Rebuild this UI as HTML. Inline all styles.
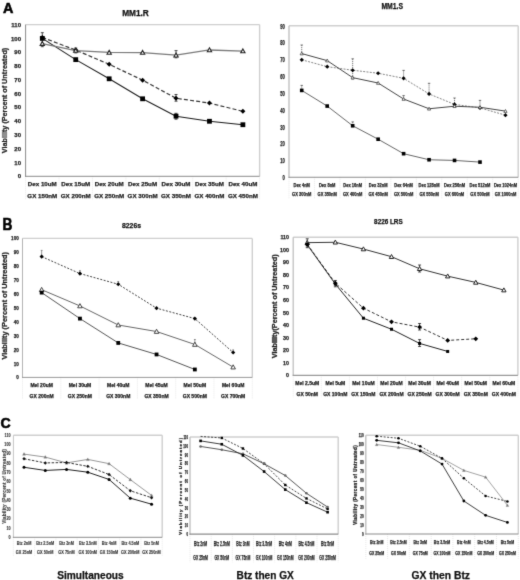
<!DOCTYPE html>
<html><head><meta charset="utf-8"><style>
html,body{margin:0;padding:0;background:#fff;}
body{width:520px;height:580px;overflow:hidden;}
svg{display:block;font-family:"Liberation Sans",sans-serif;}
</style></head><body>
<svg width="520" height="580" viewBox="0 0 520 580">
<defs><filter id="soft" x="0" y="0" width="520" height="580" filterUnits="userSpaceOnUse" color-interpolation-filters="sRGB"><feConvolveMatrix order="3" kernelMatrix="0.0115 0.084 0.0115 0.084 0.618 0.084 0.0115 0.084 0.0115" edgeMode="duplicate"/></filter></defs>
<rect width="520" height="580" fill="#fff"/>
<g filter="url(#soft)">
<rect width="520" height="580" fill="#fff"/>
<line x1="25.60" y1="24.60" x2="259.60" y2="24.60" stroke="#cfcfcf" stroke-width="1.4" />
<line x1="259.60" y1="24.60" x2="259.60" y2="176.30" stroke="#cfcfcf" stroke-width="1.4" />
<line x1="25.60" y1="176.30" x2="25.60" y2="199.50" stroke="#e0e0e0" stroke-width="0.7" stroke-dasharray="1,1" />
<line x1="59.03" y1="176.30" x2="59.03" y2="199.50" stroke="#e0e0e0" stroke-width="0.7" stroke-dasharray="1,1" />
<line x1="92.46" y1="176.30" x2="92.46" y2="199.50" stroke="#e0e0e0" stroke-width="0.7" stroke-dasharray="1,1" />
<line x1="125.89" y1="176.30" x2="125.89" y2="199.50" stroke="#e0e0e0" stroke-width="0.7" stroke-dasharray="1,1" />
<line x1="159.31" y1="176.30" x2="159.31" y2="199.50" stroke="#e0e0e0" stroke-width="0.7" stroke-dasharray="1,1" />
<line x1="192.74" y1="176.30" x2="192.74" y2="199.50" stroke="#e0e0e0" stroke-width="0.7" stroke-dasharray="1,1" />
<line x1="226.17" y1="176.30" x2="226.17" y2="199.50" stroke="#e0e0e0" stroke-width="0.7" stroke-dasharray="1,1" />
<line x1="259.60" y1="176.30" x2="259.60" y2="199.50" stroke="#e0e0e0" stroke-width="0.7" stroke-dasharray="1,1" />
<line x1="25.60" y1="24.60" x2="25.60" y2="176.80" stroke="#8a8a8a" stroke-width="1" />
<line x1="25.10" y1="176.30" x2="259.60" y2="176.30" stroke="#8a8a8a" stroke-width="1" />
<text x="21.00" y="178.45" font-size="6.00" font-weight="bold" text-anchor="end" textLength="3.34" lengthAdjust="spacingAndGlyphs" fill="#222"  stroke="#222" stroke-width="0.25">0</text>
<text x="21.00" y="164.66" font-size="6.00" font-weight="bold" text-anchor="end" textLength="6.67" lengthAdjust="spacingAndGlyphs" fill="#222"  stroke="#222" stroke-width="0.25">10</text>
<text x="21.00" y="150.87" font-size="6.00" font-weight="bold" text-anchor="end" textLength="6.67" lengthAdjust="spacingAndGlyphs" fill="#222"  stroke="#222" stroke-width="0.25">20</text>
<text x="21.00" y="137.08" font-size="6.00" font-weight="bold" text-anchor="end" textLength="6.67" lengthAdjust="spacingAndGlyphs" fill="#222"  stroke="#222" stroke-width="0.25">30</text>
<text x="21.00" y="123.28" font-size="6.00" font-weight="bold" text-anchor="end" textLength="6.67" lengthAdjust="spacingAndGlyphs" fill="#222"  stroke="#222" stroke-width="0.25">40</text>
<text x="21.00" y="109.49" font-size="6.00" font-weight="bold" text-anchor="end" textLength="6.67" lengthAdjust="spacingAndGlyphs" fill="#222"  stroke="#222" stroke-width="0.25">50</text>
<text x="21.00" y="95.70" font-size="6.00" font-weight="bold" text-anchor="end" textLength="6.67" lengthAdjust="spacingAndGlyphs" fill="#222"  stroke="#222" stroke-width="0.25">60</text>
<text x="21.00" y="81.91" font-size="6.00" font-weight="bold" text-anchor="end" textLength="6.67" lengthAdjust="spacingAndGlyphs" fill="#222"  stroke="#222" stroke-width="0.25">70</text>
<text x="21.00" y="68.12" font-size="6.00" font-weight="bold" text-anchor="end" textLength="6.67" lengthAdjust="spacingAndGlyphs" fill="#222"  stroke="#222" stroke-width="0.25">80</text>
<text x="21.00" y="54.33" font-size="6.00" font-weight="bold" text-anchor="end" textLength="6.67" lengthAdjust="spacingAndGlyphs" fill="#222"  stroke="#222" stroke-width="0.25">90</text>
<text x="21.00" y="40.54" font-size="6.00" font-weight="bold" text-anchor="end" textLength="10.01" lengthAdjust="spacingAndGlyphs" fill="#222"  stroke="#222" stroke-width="0.25">100</text>
<text x="21.00" y="26.75" font-size="6.00" font-weight="bold" text-anchor="end" textLength="9.68" lengthAdjust="spacingAndGlyphs" fill="#222"  stroke="#222" stroke-width="0.25">110</text>
<text x="42.31" y="186.22" font-size="6.20" font-weight="bold" text-anchor="middle" textLength="28.94" lengthAdjust="spacingAndGlyphs" fill="#222"  stroke="#222" stroke-width="0.25">Dex 10uM</text>
<text x="42.31" y="198.22" font-size="6.20" font-weight="bold" text-anchor="middle" textLength="29.98" lengthAdjust="spacingAndGlyphs" fill="#222"  stroke="#222" stroke-width="0.25">GX 150nM</text>
<text x="75.74" y="186.22" font-size="6.20" font-weight="bold" text-anchor="middle" textLength="28.94" lengthAdjust="spacingAndGlyphs" fill="#222"  stroke="#222" stroke-width="0.25">Dex 15uM</text>
<text x="75.74" y="198.22" font-size="6.20" font-weight="bold" text-anchor="middle" textLength="29.98" lengthAdjust="spacingAndGlyphs" fill="#222"  stroke="#222" stroke-width="0.25">GX 200nM</text>
<text x="109.17" y="186.22" font-size="6.20" font-weight="bold" text-anchor="middle" textLength="28.94" lengthAdjust="spacingAndGlyphs" fill="#222"  stroke="#222" stroke-width="0.25">Dex 20uM</text>
<text x="109.17" y="198.22" font-size="6.20" font-weight="bold" text-anchor="middle" textLength="29.98" lengthAdjust="spacingAndGlyphs" fill="#222"  stroke="#222" stroke-width="0.25">GX 250nM</text>
<text x="142.60" y="186.22" font-size="6.20" font-weight="bold" text-anchor="middle" textLength="28.94" lengthAdjust="spacingAndGlyphs" fill="#222"  stroke="#222" stroke-width="0.25">Dex 25uM</text>
<text x="142.60" y="198.22" font-size="6.20" font-weight="bold" text-anchor="middle" textLength="29.98" lengthAdjust="spacingAndGlyphs" fill="#222"  stroke="#222" stroke-width="0.25">GX 300nM</text>
<text x="176.03" y="186.22" font-size="6.20" font-weight="bold" text-anchor="middle" textLength="28.94" lengthAdjust="spacingAndGlyphs" fill="#222"  stroke="#222" stroke-width="0.25">Dex 30uM</text>
<text x="176.03" y="198.22" font-size="6.20" font-weight="bold" text-anchor="middle" textLength="29.98" lengthAdjust="spacingAndGlyphs" fill="#222"  stroke="#222" stroke-width="0.25">GX 350nM</text>
<text x="209.46" y="186.22" font-size="6.20" font-weight="bold" text-anchor="middle" textLength="28.94" lengthAdjust="spacingAndGlyphs" fill="#222"  stroke="#222" stroke-width="0.25">Dex 35uM</text>
<text x="209.46" y="198.22" font-size="6.20" font-weight="bold" text-anchor="middle" textLength="29.98" lengthAdjust="spacingAndGlyphs" fill="#222"  stroke="#222" stroke-width="0.25">GX 400nM</text>
<text x="242.89" y="186.22" font-size="6.20" font-weight="bold" text-anchor="middle" textLength="28.94" lengthAdjust="spacingAndGlyphs" fill="#222"  stroke="#222" stroke-width="0.25">Dex 40uM</text>
<text x="242.89" y="198.22" font-size="6.20" font-weight="bold" text-anchor="middle" textLength="29.98" lengthAdjust="spacingAndGlyphs" fill="#222"  stroke="#222" stroke-width="0.25">GX 450nM</text>
<line x1="42.31" y1="32.70" x2="42.31" y2="46.70" stroke="#222" stroke-width="0.8" />
<line x1="40.81" y1="32.70" x2="43.81" y2="32.70" stroke="#222" stroke-width="0.8" />
<line x1="40.81" y1="46.70" x2="43.81" y2="46.70" stroke="#222" stroke-width="0.8" />
<line x1="75.74" y1="48.00" x2="75.74" y2="52.90" stroke="#222" stroke-width="0.8" />
<line x1="74.24" y1="48.00" x2="77.24" y2="48.00" stroke="#222" stroke-width="0.8" />
<line x1="74.24" y1="52.90" x2="77.24" y2="52.90" stroke="#222" stroke-width="0.8" />
<line x1="176.03" y1="50.60" x2="176.03" y2="57.80" stroke="#222" stroke-width="0.8" />
<line x1="174.53" y1="50.60" x2="177.53" y2="50.60" stroke="#222" stroke-width="0.8" />
<line x1="174.53" y1="57.80" x2="177.53" y2="57.80" stroke="#222" stroke-width="0.8" />
<line x1="176.03" y1="94.50" x2="176.03" y2="101.20" stroke="#222" stroke-width="0.8" />
<line x1="174.53" y1="94.50" x2="177.53" y2="94.50" stroke="#222" stroke-width="0.8" />
<line x1="174.53" y1="101.20" x2="177.53" y2="101.20" stroke="#222" stroke-width="0.8" />
<line x1="176.03" y1="113.30" x2="176.03" y2="119.20" stroke="#222" stroke-width="0.8" />
<line x1="174.53" y1="113.30" x2="177.53" y2="113.30" stroke="#222" stroke-width="0.8" />
<line x1="174.53" y1="119.20" x2="177.53" y2="119.20" stroke="#222" stroke-width="0.8" />
<polyline points="42.31,38.39 75.74,59.63 109.17,78.80 142.60,98.80 176.03,116.17 209.46,121.27 242.89,124.72" fill="none" stroke="#1a1a1a" stroke-width="1.05" stroke-linejoin="round"/>
<polyline points="42.31,37.43 75.74,50.11 109.17,64.32 142.60,80.18 176.03,98.24 209.46,103.07 242.89,111.34" fill="none" stroke="#333" stroke-width="1.2" stroke-dasharray="4,2.2" stroke-linejoin="round"/>
<polyline points="42.31,43.63 75.74,50.53 109.17,52.46 142.60,52.60 176.03,55.22 209.46,49.98 242.89,51.08" fill="none" stroke="#7a7a7a" stroke-width="1.3" stroke-linejoin="round"/>
<rect x="39.91" y="35.99" width="4.80" height="4.80" fill="#000" stroke="none"/>
<rect x="73.34" y="57.23" width="4.80" height="4.80" fill="#000" stroke="none"/>
<rect x="106.77" y="76.40" width="4.80" height="4.80" fill="#000" stroke="none"/>
<rect x="140.20" y="96.40" width="4.80" height="4.80" fill="#000" stroke="none"/>
<rect x="173.63" y="113.77" width="4.80" height="4.80" fill="#000" stroke="none"/>
<rect x="207.06" y="118.87" width="4.80" height="4.80" fill="#000" stroke="none"/>
<rect x="240.49" y="122.32" width="4.80" height="4.80" fill="#000" stroke="none"/>
<polygon points="42.31,34.93 44.81,37.43 42.31,39.93 39.81,37.43" fill="#000" stroke="none"/>
<polygon points="75.74,47.61 78.24,50.11 75.74,52.61 73.24,50.11" fill="#000" stroke="none"/>
<polygon points="109.17,61.82 111.67,64.32 109.17,66.82 106.67,64.32" fill="#000" stroke="none"/>
<polygon points="142.60,77.68 145.10,80.18 142.60,82.68 140.10,80.18" fill="#000" stroke="none"/>
<polygon points="176.03,95.74 178.53,98.24 176.03,100.74 173.53,98.24" fill="#000" stroke="none"/>
<polygon points="209.46,100.57 211.96,103.07 209.46,105.57 206.96,103.07" fill="#000" stroke="none"/>
<polygon points="242.89,108.84 245.39,111.34 242.89,113.84 240.39,111.34" fill="#000" stroke="none"/>
<polygon points="42.31,41.48 44.46,45.35 40.16,45.35" fill="#fff" stroke="#222" stroke-width="1.1"/>
<polygon points="75.74,48.38 77.89,52.25 73.59,52.25" fill="#fff" stroke="#222" stroke-width="1.1"/>
<polygon points="109.17,50.31 111.32,54.18 107.02,54.18" fill="#fff" stroke="#222" stroke-width="1.1"/>
<polygon points="142.60,50.45 144.75,54.32 140.45,54.32" fill="#fff" stroke="#222" stroke-width="1.1"/>
<polygon points="176.03,53.07 178.18,56.94 173.88,56.94" fill="#fff" stroke="#222" stroke-width="1.1"/>
<polygon points="209.46,47.83 211.61,51.70 207.31,51.70" fill="#fff" stroke="#222" stroke-width="1.1"/>
<polygon points="242.89,48.93 245.04,52.80 240.74,52.80" fill="#fff" stroke="#222" stroke-width="1.1"/>
<text x="135.50" y="15.70" font-size="8.40" font-weight="bold" text-anchor="middle" textLength="26.70" lengthAdjust="spacingAndGlyphs" fill="#111"  stroke="#111" stroke-width="0.25">MM1.R</text>
<text transform="translate(6.90,100.50) rotate(-90)" x="0" y="0" font-size="7.60" font-weight="bold" text-anchor="middle" textLength="105.40" lengthAdjust="spacingAndGlyphs" fill="#222"  stroke="#222" stroke-width="0.25">Viability (Percent of Untreated)</text>
<line x1="289.00" y1="25.80" x2="518.20" y2="25.80" stroke="#cfcfcf" stroke-width="1.4" />
<line x1="518.20" y1="25.80" x2="518.20" y2="177.25" stroke="#cfcfcf" stroke-width="1.4" />
<line x1="289.00" y1="177.25" x2="289.00" y2="199.00" stroke="#e0e0e0" stroke-width="0.7" stroke-dasharray="1,1" />
<line x1="314.47" y1="177.25" x2="314.47" y2="199.00" stroke="#e0e0e0" stroke-width="0.7" stroke-dasharray="1,1" />
<line x1="339.93" y1="177.25" x2="339.93" y2="199.00" stroke="#e0e0e0" stroke-width="0.7" stroke-dasharray="1,1" />
<line x1="365.40" y1="177.25" x2="365.40" y2="199.00" stroke="#e0e0e0" stroke-width="0.7" stroke-dasharray="1,1" />
<line x1="390.87" y1="177.25" x2="390.87" y2="199.00" stroke="#e0e0e0" stroke-width="0.7" stroke-dasharray="1,1" />
<line x1="416.33" y1="177.25" x2="416.33" y2="199.00" stroke="#e0e0e0" stroke-width="0.7" stroke-dasharray="1,1" />
<line x1="441.80" y1="177.25" x2="441.80" y2="199.00" stroke="#e0e0e0" stroke-width="0.7" stroke-dasharray="1,1" />
<line x1="467.27" y1="177.25" x2="467.27" y2="199.00" stroke="#e0e0e0" stroke-width="0.7" stroke-dasharray="1,1" />
<line x1="492.73" y1="177.25" x2="492.73" y2="199.00" stroke="#e0e0e0" stroke-width="0.7" stroke-dasharray="1,1" />
<line x1="518.20" y1="177.25" x2="518.20" y2="199.00" stroke="#e0e0e0" stroke-width="0.7" stroke-dasharray="1,1" />
<line x1="289.00" y1="25.80" x2="289.00" y2="177.75" stroke="#c4c4c4" stroke-width="1.5" />
<line x1="288.50" y1="177.25" x2="518.20" y2="177.25" stroke="#8c8c8c" stroke-width="1.0" />
<text x="284.90" y="180.11" font-size="6.60" font-weight="bold" text-anchor="end" textLength="2.28" lengthAdjust="spacingAndGlyphs" fill="#222"  stroke="#222" stroke-width="0.25">0</text>
<text x="284.90" y="163.29" font-size="6.60" font-weight="bold" text-anchor="end" textLength="4.55" lengthAdjust="spacingAndGlyphs" fill="#222"  stroke="#222" stroke-width="0.25">10</text>
<text x="284.90" y="146.46" font-size="6.60" font-weight="bold" text-anchor="end" textLength="4.55" lengthAdjust="spacingAndGlyphs" fill="#222"  stroke="#222" stroke-width="0.25">20</text>
<text x="284.90" y="129.63" font-size="6.60" font-weight="bold" text-anchor="end" textLength="4.55" lengthAdjust="spacingAndGlyphs" fill="#222"  stroke="#222" stroke-width="0.25">30</text>
<text x="284.90" y="112.80" font-size="6.60" font-weight="bold" text-anchor="end" textLength="4.55" lengthAdjust="spacingAndGlyphs" fill="#222"  stroke="#222" stroke-width="0.25">40</text>
<text x="284.90" y="95.97" font-size="6.60" font-weight="bold" text-anchor="end" textLength="4.55" lengthAdjust="spacingAndGlyphs" fill="#222"  stroke="#222" stroke-width="0.25">50</text>
<text x="284.90" y="79.15" font-size="6.60" font-weight="bold" text-anchor="end" textLength="4.55" lengthAdjust="spacingAndGlyphs" fill="#222"  stroke="#222" stroke-width="0.25">60</text>
<text x="284.90" y="62.32" font-size="6.60" font-weight="bold" text-anchor="end" textLength="4.55" lengthAdjust="spacingAndGlyphs" fill="#222"  stroke="#222" stroke-width="0.25">70</text>
<text x="284.90" y="45.49" font-size="6.60" font-weight="bold" text-anchor="end" textLength="4.55" lengthAdjust="spacingAndGlyphs" fill="#222"  stroke="#222" stroke-width="0.25">80</text>
<text x="284.90" y="28.66" font-size="6.60" font-weight="bold" text-anchor="end" textLength="4.55" lengthAdjust="spacingAndGlyphs" fill="#222"  stroke="#222" stroke-width="0.25">90</text>
<text x="301.73" y="186.56" font-size="5.20" font-weight="bold" text-anchor="middle" textLength="16.46" lengthAdjust="spacingAndGlyphs" fill="#222"  stroke="#222" stroke-width="0.25">Dex 4nM</text>
<text x="301.73" y="196.26" font-size="5.20" font-weight="bold" text-anchor="middle" textLength="19.36" lengthAdjust="spacingAndGlyphs" fill="#222"  stroke="#222" stroke-width="0.25">GX 300nM</text>
<text x="327.20" y="186.56" font-size="5.20" font-weight="bold" text-anchor="middle" textLength="16.46" lengthAdjust="spacingAndGlyphs" fill="#222"  stroke="#222" stroke-width="0.25">Dex 8nM</text>
<text x="327.20" y="196.26" font-size="5.20" font-weight="bold" text-anchor="middle" textLength="19.36" lengthAdjust="spacingAndGlyphs" fill="#222"  stroke="#222" stroke-width="0.25">GX 350nM</text>
<text x="352.67" y="186.56" font-size="5.20" font-weight="bold" text-anchor="middle" textLength="18.69" lengthAdjust="spacingAndGlyphs" fill="#222"  stroke="#222" stroke-width="0.25">Dex 16nM</text>
<text x="352.67" y="196.26" font-size="5.20" font-weight="bold" text-anchor="middle" textLength="19.36" lengthAdjust="spacingAndGlyphs" fill="#222"  stroke="#222" stroke-width="0.25">GX 400nM</text>
<text x="378.13" y="186.56" font-size="5.20" font-weight="bold" text-anchor="middle" textLength="18.69" lengthAdjust="spacingAndGlyphs" fill="#222"  stroke="#222" stroke-width="0.25">Dex 32nM</text>
<text x="378.13" y="196.26" font-size="5.20" font-weight="bold" text-anchor="middle" textLength="19.36" lengthAdjust="spacingAndGlyphs" fill="#222"  stroke="#222" stroke-width="0.25">GX 450nM</text>
<text x="403.60" y="186.56" font-size="5.20" font-weight="bold" text-anchor="middle" textLength="18.69" lengthAdjust="spacingAndGlyphs" fill="#222"  stroke="#222" stroke-width="0.25">Dex 64nM</text>
<text x="403.60" y="196.26" font-size="5.20" font-weight="bold" text-anchor="middle" textLength="19.36" lengthAdjust="spacingAndGlyphs" fill="#222"  stroke="#222" stroke-width="0.25">GX 500nM</text>
<text x="429.07" y="186.56" font-size="5.20" font-weight="bold" text-anchor="middle" textLength="20.92" lengthAdjust="spacingAndGlyphs" fill="#222"  stroke="#222" stroke-width="0.25">Dex 128nM</text>
<text x="429.07" y="196.26" font-size="5.20" font-weight="bold" text-anchor="middle" textLength="19.36" lengthAdjust="spacingAndGlyphs" fill="#222"  stroke="#222" stroke-width="0.25">GX 550nM</text>
<text x="454.53" y="186.56" font-size="5.20" font-weight="bold" text-anchor="middle" textLength="20.92" lengthAdjust="spacingAndGlyphs" fill="#222"  stroke="#222" stroke-width="0.25">Dex 256nM</text>
<text x="454.53" y="196.26" font-size="5.20" font-weight="bold" text-anchor="middle" textLength="19.36" lengthAdjust="spacingAndGlyphs" fill="#222"  stroke="#222" stroke-width="0.25">GX 600nM</text>
<text x="480.00" y="186.56" font-size="5.20" font-weight="bold" text-anchor="middle" textLength="20.92" lengthAdjust="spacingAndGlyphs" fill="#222"  stroke="#222" stroke-width="0.25">Dex 512nM</text>
<text x="480.00" y="196.26" font-size="5.20" font-weight="bold" text-anchor="middle" textLength="19.36" lengthAdjust="spacingAndGlyphs" fill="#222"  stroke="#222" stroke-width="0.25">GX 500nM</text>
<text x="505.47" y="186.56" font-size="5.20" font-weight="bold" text-anchor="middle" textLength="23.14" lengthAdjust="spacingAndGlyphs" fill="#222"  stroke="#222" stroke-width="0.25">Dex 1024nM</text>
<text x="505.47" y="196.26" font-size="5.20" font-weight="bold" text-anchor="middle" textLength="21.58" lengthAdjust="spacingAndGlyphs" fill="#222"  stroke="#222" stroke-width="0.25">GX 1000nM</text>
<line x1="301.73" y1="45.00" x2="301.73" y2="53.80" stroke="#555" stroke-width="0.8" stroke-dasharray="1.2,0.8" />
<line x1="300.53" y1="45.00" x2="302.93" y2="45.00" stroke="#555" stroke-width="0.8" />
<line x1="301.73" y1="85.40" x2="301.73" y2="90.50" stroke="#555" stroke-width="0.8" stroke-dasharray="1.2,0.8" />
<line x1="300.53" y1="85.40" x2="302.93" y2="85.40" stroke="#555" stroke-width="0.8" />
<line x1="352.67" y1="58.80" x2="352.67" y2="79.00" stroke="#555" stroke-width="0.8" stroke-dasharray="1.2,0.8" />
<line x1="351.47" y1="58.80" x2="353.87" y2="58.80" stroke="#555" stroke-width="0.8" />
<line x1="351.47" y1="79.00" x2="353.87" y2="79.00" stroke="#555" stroke-width="0.8" />
<line x1="403.60" y1="70.40" x2="403.60" y2="78.90" stroke="#555" stroke-width="0.8" stroke-dasharray="1.2,0.8" />
<line x1="402.40" y1="70.40" x2="404.80" y2="70.40" stroke="#555" stroke-width="0.8" />
<line x1="403.60" y1="95.60" x2="403.60" y2="98.80" stroke="#555" stroke-width="0.8" stroke-dasharray="1.2,0.8" />
<line x1="402.40" y1="95.60" x2="404.80" y2="95.60" stroke="#555" stroke-width="0.8" />
<line x1="429.07" y1="83.30" x2="429.07" y2="94.10" stroke="#555" stroke-width="0.8" stroke-dasharray="1.2,0.8" />
<line x1="427.87" y1="83.30" x2="430.27" y2="83.30" stroke="#555" stroke-width="0.8" />
<line x1="454.53" y1="98.00" x2="454.53" y2="104.50" stroke="#555" stroke-width="0.8" stroke-dasharray="1.2,0.8" />
<line x1="453.33" y1="98.00" x2="455.73" y2="98.00" stroke="#555" stroke-width="0.8" />
<line x1="480.00" y1="100.40" x2="480.00" y2="108.00" stroke="#555" stroke-width="0.8" stroke-dasharray="1.2,0.8" />
<line x1="478.80" y1="100.40" x2="481.20" y2="100.40" stroke="#555" stroke-width="0.8" />
<line x1="352.67" y1="121.90" x2="352.67" y2="125.80" stroke="#555" stroke-width="0.8" stroke-dasharray="1.2,0.8" />
<line x1="351.47" y1="121.90" x2="353.87" y2="121.90" stroke="#555" stroke-width="0.8" />
<polyline points="301.73,90.42 327.20,106.07 352.67,125.76 378.13,139.22 403.60,153.69 429.07,159.75 454.53,160.42 480.00,162.10" fill="none" stroke="#666" stroke-width="1.0" stroke-linejoin="round"/>
<polyline points="301.73,59.79 327.20,66.69 352.67,70.23 378.13,73.25 403.60,78.30 429.07,93.95 454.53,104.39 480.00,107.92 505.47,115.16" fill="none" stroke="#777" stroke-width="0.9" stroke-dasharray="2,1.3" stroke-linejoin="round"/>
<polyline points="301.73,53.57 327.20,60.63 352.67,77.63 378.13,83.01 403.60,99.00 429.07,108.76 454.53,106.24 480.00,107.25 505.47,111.12" fill="none" stroke="#444" stroke-width="1.0" stroke-linejoin="round"/>
<rect x="299.93" y="88.62" width="3.60" height="3.60" fill="#000" stroke="none"/>
<rect x="325.40" y="104.27" width="3.60" height="3.60" fill="#000" stroke="none"/>
<rect x="350.87" y="123.96" width="3.60" height="3.60" fill="#000" stroke="none"/>
<rect x="376.33" y="137.42" width="3.60" height="3.60" fill="#000" stroke="none"/>
<rect x="401.80" y="151.89" width="3.60" height="3.60" fill="#000" stroke="none"/>
<rect x="427.27" y="157.95" width="3.60" height="3.60" fill="#000" stroke="none"/>
<rect x="452.73" y="158.62" width="3.60" height="3.60" fill="#000" stroke="none"/>
<rect x="478.20" y="160.30" width="3.60" height="3.60" fill="#000" stroke="none"/>
<polygon points="301.73,57.69 303.83,59.79 301.73,61.89 299.63,59.79" fill="#000" stroke="none"/>
<polygon points="327.20,64.59 329.30,66.69 327.20,68.79 325.10,66.69" fill="#000" stroke="none"/>
<polygon points="352.67,68.13 354.77,70.23 352.67,72.33 350.57,70.23" fill="#000" stroke="none"/>
<polygon points="378.13,71.15 380.23,73.25 378.13,75.35 376.03,73.25" fill="#000" stroke="none"/>
<polygon points="403.60,76.20 405.70,78.30 403.60,80.40 401.50,78.30" fill="#000" stroke="none"/>
<polygon points="429.07,91.85 431.17,93.95 429.07,96.05 426.97,93.95" fill="#000" stroke="none"/>
<polygon points="454.53,102.29 456.63,104.39 454.53,106.49 452.43,104.39" fill="#000" stroke="none"/>
<polygon points="480.00,105.82 482.10,107.92 480.00,110.02 477.90,107.92" fill="#000" stroke="none"/>
<polygon points="505.47,113.06 507.57,115.16 505.47,117.26 503.37,115.16" fill="#000" stroke="none"/>
<polygon points="301.73,51.97 303.33,54.85 300.13,54.85" fill="#fff" stroke="#444" stroke-width="0.8"/>
<polygon points="327.20,59.03 328.80,61.91 325.60,61.91" fill="#fff" stroke="#444" stroke-width="0.8"/>
<polygon points="352.67,76.03 354.27,78.91 351.07,78.91" fill="#fff" stroke="#444" stroke-width="0.8"/>
<polygon points="378.13,81.41 379.73,84.29 376.53,84.29" fill="#fff" stroke="#444" stroke-width="0.8"/>
<polygon points="403.60,97.40 405.20,100.28 402.00,100.28" fill="#fff" stroke="#444" stroke-width="0.8"/>
<polygon points="429.07,107.16 430.67,110.04 427.47,110.04" fill="#fff" stroke="#444" stroke-width="0.8"/>
<polygon points="454.53,104.64 456.13,107.52 452.93,107.52" fill="#fff" stroke="#444" stroke-width="0.8"/>
<polygon points="480.00,105.65 481.60,108.53 478.40,108.53" fill="#fff" stroke="#444" stroke-width="0.8"/>
<polygon points="505.47,109.52 507.07,112.40 503.87,112.40" fill="#fff" stroke="#444" stroke-width="0.8"/>
<text x="392.20" y="9.40" font-size="8.40" font-weight="bold" text-anchor="middle" textLength="21.60" lengthAdjust="spacingAndGlyphs" fill="#111"  stroke="#111" stroke-width="0.25">MM1.S</text>
<line x1="22.50" y1="238.40" x2="252.30" y2="238.40" stroke="#cfcfcf" stroke-width="1.4" />
<line x1="252.30" y1="238.40" x2="252.30" y2="377.40" stroke="#cfcfcf" stroke-width="1.4" />
<line x1="22.50" y1="377.40" x2="22.50" y2="399.00" stroke="#e0e0e0" stroke-width="0.7" stroke-dasharray="1,1" />
<line x1="60.80" y1="377.40" x2="60.80" y2="399.00" stroke="#e0e0e0" stroke-width="0.7" stroke-dasharray="1,1" />
<line x1="99.10" y1="377.40" x2="99.10" y2="399.00" stroke="#e0e0e0" stroke-width="0.7" stroke-dasharray="1,1" />
<line x1="137.40" y1="377.40" x2="137.40" y2="399.00" stroke="#e0e0e0" stroke-width="0.7" stroke-dasharray="1,1" />
<line x1="175.70" y1="377.40" x2="175.70" y2="399.00" stroke="#e0e0e0" stroke-width="0.7" stroke-dasharray="1,1" />
<line x1="214.00" y1="377.40" x2="214.00" y2="399.00" stroke="#e0e0e0" stroke-width="0.7" stroke-dasharray="1,1" />
<line x1="252.30" y1="377.40" x2="252.30" y2="399.00" stroke="#e0e0e0" stroke-width="0.7" stroke-dasharray="1,1" />
<line x1="22.50" y1="238.40" x2="22.50" y2="377.90" stroke="#b4b4b4" stroke-width="1" />
<line x1="22.00" y1="377.40" x2="252.30" y2="377.40" stroke="#999" stroke-width="1" />
<text x="18.75" y="379.40" font-size="5.60" font-weight="bold" text-anchor="end" textLength="2.55" lengthAdjust="spacingAndGlyphs" fill="#222"  stroke="#222" stroke-width="0.25">0</text>
<text x="18.75" y="365.50" font-size="5.60" font-weight="bold" text-anchor="end" textLength="5.11" lengthAdjust="spacingAndGlyphs" fill="#222"  stroke="#222" stroke-width="0.25">10</text>
<text x="18.75" y="351.60" font-size="5.60" font-weight="bold" text-anchor="end" textLength="5.11" lengthAdjust="spacingAndGlyphs" fill="#222"  stroke="#222" stroke-width="0.25">20</text>
<text x="18.75" y="337.70" font-size="5.60" font-weight="bold" text-anchor="end" textLength="5.11" lengthAdjust="spacingAndGlyphs" fill="#222"  stroke="#222" stroke-width="0.25">30</text>
<text x="18.75" y="323.80" font-size="5.60" font-weight="bold" text-anchor="end" textLength="5.11" lengthAdjust="spacingAndGlyphs" fill="#222"  stroke="#222" stroke-width="0.25">40</text>
<text x="18.75" y="309.90" font-size="5.60" font-weight="bold" text-anchor="end" textLength="5.11" lengthAdjust="spacingAndGlyphs" fill="#222"  stroke="#222" stroke-width="0.25">50</text>
<text x="18.75" y="296.00" font-size="5.60" font-weight="bold" text-anchor="end" textLength="5.11" lengthAdjust="spacingAndGlyphs" fill="#222"  stroke="#222" stroke-width="0.25">60</text>
<text x="18.75" y="282.10" font-size="5.60" font-weight="bold" text-anchor="end" textLength="5.11" lengthAdjust="spacingAndGlyphs" fill="#222"  stroke="#222" stroke-width="0.25">70</text>
<text x="18.75" y="268.20" font-size="5.60" font-weight="bold" text-anchor="end" textLength="5.11" lengthAdjust="spacingAndGlyphs" fill="#222"  stroke="#222" stroke-width="0.25">80</text>
<text x="18.75" y="254.30" font-size="5.60" font-weight="bold" text-anchor="end" textLength="5.11" lengthAdjust="spacingAndGlyphs" fill="#222"  stroke="#222" stroke-width="0.25">90</text>
<text x="18.75" y="240.40" font-size="5.60" font-weight="bold" text-anchor="end" textLength="7.66" lengthAdjust="spacingAndGlyphs" fill="#222"  stroke="#222" stroke-width="0.25">100</text>
<text x="41.65" y="386.79" font-size="5.00" font-weight="bold" text-anchor="middle" textLength="22.50" lengthAdjust="spacingAndGlyphs" fill="#222"  stroke="#222" stroke-width="0.25">Mel 20uM</text>
<text x="41.65" y="397.79" font-size="5.00" font-weight="bold" text-anchor="middle" textLength="24.17" lengthAdjust="spacingAndGlyphs" fill="#222"  stroke="#222" stroke-width="0.25">GX 200nM</text>
<text x="79.95" y="386.79" font-size="5.00" font-weight="bold" text-anchor="middle" textLength="22.50" lengthAdjust="spacingAndGlyphs" fill="#222"  stroke="#222" stroke-width="0.25">Mel 30uM</text>
<text x="79.95" y="397.79" font-size="5.00" font-weight="bold" text-anchor="middle" textLength="24.17" lengthAdjust="spacingAndGlyphs" fill="#222"  stroke="#222" stroke-width="0.25">GX 250nM</text>
<text x="118.25" y="386.79" font-size="5.00" font-weight="bold" text-anchor="middle" textLength="22.50" lengthAdjust="spacingAndGlyphs" fill="#222"  stroke="#222" stroke-width="0.25">Mel 40uM</text>
<text x="118.25" y="397.79" font-size="5.00" font-weight="bold" text-anchor="middle" textLength="24.17" lengthAdjust="spacingAndGlyphs" fill="#222"  stroke="#222" stroke-width="0.25">GX 300nM</text>
<text x="156.55" y="386.79" font-size="5.00" font-weight="bold" text-anchor="middle" textLength="22.50" lengthAdjust="spacingAndGlyphs" fill="#222"  stroke="#222" stroke-width="0.25">Mel 45uM</text>
<text x="156.55" y="397.79" font-size="5.00" font-weight="bold" text-anchor="middle" textLength="24.17" lengthAdjust="spacingAndGlyphs" fill="#222"  stroke="#222" stroke-width="0.25">GX 350nM</text>
<text x="194.85" y="386.79" font-size="5.00" font-weight="bold" text-anchor="middle" textLength="22.50" lengthAdjust="spacingAndGlyphs" fill="#222"  stroke="#222" stroke-width="0.25">Mel 50uM</text>
<text x="194.85" y="397.79" font-size="5.00" font-weight="bold" text-anchor="middle" textLength="24.17" lengthAdjust="spacingAndGlyphs" fill="#222"  stroke="#222" stroke-width="0.25">GX 500nM</text>
<text x="233.15" y="386.79" font-size="5.00" font-weight="bold" text-anchor="middle" textLength="22.50" lengthAdjust="spacingAndGlyphs" fill="#222"  stroke="#222" stroke-width="0.25">Mel 60uM</text>
<text x="233.15" y="397.79" font-size="5.00" font-weight="bold" text-anchor="middle" textLength="24.17" lengthAdjust="spacingAndGlyphs" fill="#222"  stroke="#222" stroke-width="0.25">GX 700nM</text>
<line x1="41.65" y1="250.40" x2="41.65" y2="256.60" stroke="#666" stroke-width="0.7" />
<line x1="40.75" y1="250.40" x2="42.55" y2="250.40" stroke="#666" stroke-width="0.7" />
<line x1="79.95" y1="270.70" x2="79.95" y2="273.50" stroke="#666" stroke-width="0.7" />
<line x1="79.05" y1="270.70" x2="80.85" y2="270.70" stroke="#666" stroke-width="0.7" />
<line x1="118.25" y1="281.50" x2="118.25" y2="284.30" stroke="#666" stroke-width="0.7" />
<line x1="117.35" y1="281.50" x2="119.15" y2="281.50" stroke="#666" stroke-width="0.7" />
<line x1="194.85" y1="339.50" x2="194.85" y2="344.30" stroke="#666" stroke-width="0.7" />
<line x1="193.95" y1="339.50" x2="195.75" y2="339.50" stroke="#666" stroke-width="0.7" />
<line x1="233.15" y1="349.90" x2="233.15" y2="352.30" stroke="#666" stroke-width="0.7" />
<line x1="232.25" y1="349.90" x2="234.05" y2="349.90" stroke="#666" stroke-width="0.7" />
<polyline points="41.65,256.61 79.95,273.57 118.25,284.27 156.55,308.18 194.85,318.60 233.15,352.52" fill="none" stroke="#444" stroke-width="1.0" stroke-dasharray="2,1.5" stroke-linejoin="round"/>
<polyline points="41.65,289.69 79.95,305.95 118.25,325.00 156.55,331.53 194.85,344.46 233.15,367.11" fill="none" stroke="#666" stroke-width="1.0" stroke-linejoin="round"/>
<polyline points="41.65,292.61 79.95,318.60 118.25,342.93 156.55,354.46 194.85,369.48" fill="none" stroke="#555" stroke-width="1.0" stroke-linejoin="round"/>
<polygon points="41.65,254.51 43.75,256.61 41.65,258.71 39.55,256.61" fill="#000" stroke="none"/>
<polygon points="79.95,271.47 82.05,273.57 79.95,275.67 77.85,273.57" fill="#000" stroke="none"/>
<polygon points="118.25,282.17 120.35,284.27 118.25,286.37 116.15,284.27" fill="#000" stroke="none"/>
<polygon points="156.55,306.08 158.65,308.18 156.55,310.28 154.45,308.18" fill="#000" stroke="none"/>
<polygon points="194.85,316.50 196.95,318.60 194.85,320.70 192.75,318.60" fill="#000" stroke="none"/>
<polygon points="233.15,350.42 235.25,352.52 233.15,354.62 231.05,352.52" fill="#000" stroke="none"/>
<polygon points="41.65,287.39 43.95,291.53 39.35,291.53" fill="#fff" stroke="#333" stroke-width="0.9"/>
<polygon points="79.95,303.65 82.25,307.79 77.65,307.79" fill="#fff" stroke="#333" stroke-width="0.9"/>
<polygon points="118.25,322.70 120.55,326.84 115.95,326.84" fill="#fff" stroke="#333" stroke-width="0.9"/>
<polygon points="156.55,329.23 158.85,333.37 154.25,333.37" fill="#fff" stroke="#333" stroke-width="0.9"/>
<polygon points="194.85,342.16 197.15,346.30 192.55,346.30" fill="#fff" stroke="#333" stroke-width="0.9"/>
<polygon points="233.15,364.81 235.45,368.95 230.85,368.95" fill="#fff" stroke="#333" stroke-width="0.9"/>
<rect x="39.75" y="290.71" width="3.80" height="3.80" fill="#000" stroke="none"/>
<rect x="78.05" y="316.70" width="3.80" height="3.80" fill="#000" stroke="none"/>
<rect x="116.35" y="341.03" width="3.80" height="3.80" fill="#000" stroke="none"/>
<rect x="154.65" y="352.56" width="3.80" height="3.80" fill="#000" stroke="none"/>
<rect x="192.95" y="367.58" width="3.80" height="3.80" fill="#000" stroke="none"/>
<text x="131.50" y="227.90" font-size="7.40" font-weight="bold" text-anchor="middle" textLength="19.10" lengthAdjust="spacingAndGlyphs" fill="#111"  stroke="#111" stroke-width="0.25">8226s</text>
<text transform="translate(7.20,305.80) rotate(-90)" x="0" y="0" font-size="7.40" font-weight="bold" text-anchor="middle" textLength="107.60" lengthAdjust="spacingAndGlyphs" fill="#222"  stroke="#222" stroke-width="0.25">Viability (Percent of Untreated)</text>
<line x1="293.20" y1="237.25" x2="517.90" y2="237.25" stroke="#cfcfcf" stroke-width="1.4" />
<line x1="517.90" y1="237.25" x2="517.90" y2="375.30" stroke="#cfcfcf" stroke-width="1.4" />
<line x1="293.20" y1="375.30" x2="293.20" y2="397.50" stroke="#e0e0e0" stroke-width="0.7" stroke-dasharray="1,1" />
<line x1="321.29" y1="375.30" x2="321.29" y2="397.50" stroke="#e0e0e0" stroke-width="0.7" stroke-dasharray="1,1" />
<line x1="349.38" y1="375.30" x2="349.38" y2="397.50" stroke="#e0e0e0" stroke-width="0.7" stroke-dasharray="1,1" />
<line x1="377.46" y1="375.30" x2="377.46" y2="397.50" stroke="#e0e0e0" stroke-width="0.7" stroke-dasharray="1,1" />
<line x1="405.55" y1="375.30" x2="405.55" y2="397.50" stroke="#e0e0e0" stroke-width="0.7" stroke-dasharray="1,1" />
<line x1="433.64" y1="375.30" x2="433.64" y2="397.50" stroke="#e0e0e0" stroke-width="0.7" stroke-dasharray="1,1" />
<line x1="461.72" y1="375.30" x2="461.72" y2="397.50" stroke="#e0e0e0" stroke-width="0.7" stroke-dasharray="1,1" />
<line x1="489.81" y1="375.30" x2="489.81" y2="397.50" stroke="#e0e0e0" stroke-width="0.7" stroke-dasharray="1,1" />
<line x1="517.90" y1="375.30" x2="517.90" y2="397.50" stroke="#e0e0e0" stroke-width="0.7" stroke-dasharray="1,1" />
<line x1="293.20" y1="237.25" x2="293.20" y2="375.80" stroke="#bbbbbb" stroke-width="1.2" />
<line x1="292.70" y1="375.30" x2="517.90" y2="375.30" stroke="#999" stroke-width="1.2" />
<text x="289.00" y="377.30" font-size="5.60" font-weight="bold" text-anchor="end" textLength="2.96" lengthAdjust="spacingAndGlyphs" fill="#222"  stroke="#222" stroke-width="0.25">0</text>
<text x="289.00" y="364.75" font-size="5.60" font-weight="bold" text-anchor="end" textLength="5.92" lengthAdjust="spacingAndGlyphs" fill="#222"  stroke="#222" stroke-width="0.25">10</text>
<text x="289.00" y="352.20" font-size="5.60" font-weight="bold" text-anchor="end" textLength="5.92" lengthAdjust="spacingAndGlyphs" fill="#222"  stroke="#222" stroke-width="0.25">20</text>
<text x="289.00" y="339.65" font-size="5.60" font-weight="bold" text-anchor="end" textLength="5.92" lengthAdjust="spacingAndGlyphs" fill="#222"  stroke="#222" stroke-width="0.25">30</text>
<text x="289.00" y="327.10" font-size="5.60" font-weight="bold" text-anchor="end" textLength="5.92" lengthAdjust="spacingAndGlyphs" fill="#222"  stroke="#222" stroke-width="0.25">40</text>
<text x="289.00" y="314.55" font-size="5.60" font-weight="bold" text-anchor="end" textLength="5.92" lengthAdjust="spacingAndGlyphs" fill="#222"  stroke="#222" stroke-width="0.25">50</text>
<text x="289.00" y="302.00" font-size="5.60" font-weight="bold" text-anchor="end" textLength="5.92" lengthAdjust="spacingAndGlyphs" fill="#222"  stroke="#222" stroke-width="0.25">60</text>
<text x="289.00" y="289.45" font-size="5.60" font-weight="bold" text-anchor="end" textLength="5.92" lengthAdjust="spacingAndGlyphs" fill="#222"  stroke="#222" stroke-width="0.25">70</text>
<text x="289.00" y="276.90" font-size="5.60" font-weight="bold" text-anchor="end" textLength="5.92" lengthAdjust="spacingAndGlyphs" fill="#222"  stroke="#222" stroke-width="0.25">80</text>
<text x="289.00" y="264.35" font-size="5.60" font-weight="bold" text-anchor="end" textLength="5.92" lengthAdjust="spacingAndGlyphs" fill="#222"  stroke="#222" stroke-width="0.25">90</text>
<text x="289.00" y="251.80" font-size="5.60" font-weight="bold" text-anchor="end" textLength="8.88" lengthAdjust="spacingAndGlyphs" fill="#222"  stroke="#222" stroke-width="0.25">100</text>
<text x="289.00" y="239.25" font-size="5.60" font-weight="bold" text-anchor="end" textLength="8.58" lengthAdjust="spacingAndGlyphs" fill="#222"  stroke="#222" stroke-width="0.25">110</text>
<text x="307.24" y="384.89" font-size="5.00" font-weight="bold" text-anchor="middle" textLength="23.89" lengthAdjust="spacingAndGlyphs" fill="#222"  stroke="#222" stroke-width="0.25">Mel 2.5uM</text>
<text x="307.24" y="395.54" font-size="5.00" font-weight="bold" text-anchor="middle" textLength="21.39" lengthAdjust="spacingAndGlyphs" fill="#222"  stroke="#222" stroke-width="0.25">GX 50nM</text>
<text x="335.33" y="384.89" font-size="5.00" font-weight="bold" text-anchor="middle" textLength="19.72" lengthAdjust="spacingAndGlyphs" fill="#222"  stroke="#222" stroke-width="0.25">Mel 5uM</text>
<text x="335.33" y="395.54" font-size="5.00" font-weight="bold" text-anchor="middle" textLength="24.17" lengthAdjust="spacingAndGlyphs" fill="#222"  stroke="#222" stroke-width="0.25">GX 100nM</text>
<text x="363.42" y="384.89" font-size="5.00" font-weight="bold" text-anchor="middle" textLength="22.50" lengthAdjust="spacingAndGlyphs" fill="#222"  stroke="#222" stroke-width="0.25">Mel 10uM</text>
<text x="363.42" y="395.54" font-size="5.00" font-weight="bold" text-anchor="middle" textLength="24.17" lengthAdjust="spacingAndGlyphs" fill="#222"  stroke="#222" stroke-width="0.25">GX 150nM</text>
<text x="391.51" y="384.89" font-size="5.00" font-weight="bold" text-anchor="middle" textLength="22.50" lengthAdjust="spacingAndGlyphs" fill="#222"  stroke="#222" stroke-width="0.25">Mel 20uM</text>
<text x="391.51" y="395.54" font-size="5.00" font-weight="bold" text-anchor="middle" textLength="24.17" lengthAdjust="spacingAndGlyphs" fill="#222"  stroke="#222" stroke-width="0.25">GX 200nM</text>
<text x="419.59" y="384.89" font-size="5.00" font-weight="bold" text-anchor="middle" textLength="22.50" lengthAdjust="spacingAndGlyphs" fill="#222"  stroke="#222" stroke-width="0.25">Mel 30uM</text>
<text x="419.59" y="395.54" font-size="5.00" font-weight="bold" text-anchor="middle" textLength="24.17" lengthAdjust="spacingAndGlyphs" fill="#222"  stroke="#222" stroke-width="0.25">GX 250nM</text>
<text x="447.68" y="384.89" font-size="5.00" font-weight="bold" text-anchor="middle" textLength="22.50" lengthAdjust="spacingAndGlyphs" fill="#222"  stroke="#222" stroke-width="0.25">Mel 40uM</text>
<text x="447.68" y="395.54" font-size="5.00" font-weight="bold" text-anchor="middle" textLength="24.17" lengthAdjust="spacingAndGlyphs" fill="#222"  stroke="#222" stroke-width="0.25">GX 300nM</text>
<text x="475.77" y="384.89" font-size="5.00" font-weight="bold" text-anchor="middle" textLength="22.50" lengthAdjust="spacingAndGlyphs" fill="#222"  stroke="#222" stroke-width="0.25">Mel 50uM</text>
<text x="475.77" y="395.54" font-size="5.00" font-weight="bold" text-anchor="middle" textLength="24.17" lengthAdjust="spacingAndGlyphs" fill="#222"  stroke="#222" stroke-width="0.25">GX 350nM</text>
<text x="503.86" y="384.89" font-size="5.00" font-weight="bold" text-anchor="middle" textLength="22.50" lengthAdjust="spacingAndGlyphs" fill="#222"  stroke="#222" stroke-width="0.25">Mel 60uM</text>
<text x="503.86" y="395.54" font-size="5.00" font-weight="bold" text-anchor="middle" textLength="24.17" lengthAdjust="spacingAndGlyphs" fill="#222"  stroke="#222" stroke-width="0.25">GX 400nM</text>
<line x1="307.24" y1="238.80" x2="307.24" y2="247.70" stroke="#222" stroke-width="0.8" />
<line x1="305.74" y1="238.80" x2="308.74" y2="238.80" stroke="#222" stroke-width="0.8" />
<line x1="305.74" y1="247.70" x2="308.74" y2="247.70" stroke="#222" stroke-width="0.8" />
<line x1="335.33" y1="280.50" x2="335.33" y2="286.80" stroke="#222" stroke-width="0.8" />
<line x1="333.83" y1="280.50" x2="336.83" y2="280.50" stroke="#222" stroke-width="0.8" />
<line x1="333.83" y1="286.80" x2="336.83" y2="286.80" stroke="#222" stroke-width="0.8" />
<line x1="419.59" y1="265.00" x2="419.59" y2="272.00" stroke="#222" stroke-width="0.8" />
<line x1="418.09" y1="265.00" x2="421.09" y2="265.00" stroke="#222" stroke-width="0.8" />
<line x1="418.09" y1="272.00" x2="421.09" y2="272.00" stroke="#222" stroke-width="0.8" />
<line x1="419.59" y1="323.50" x2="419.59" y2="330.00" stroke="#222" stroke-width="0.8" />
<line x1="418.09" y1="323.50" x2="421.09" y2="323.50" stroke="#222" stroke-width="0.8" />
<line x1="418.09" y1="330.00" x2="421.09" y2="330.00" stroke="#222" stroke-width="0.8" />
<line x1="419.59" y1="339.60" x2="419.59" y2="346.50" stroke="#222" stroke-width="0.8" />
<line x1="418.09" y1="339.60" x2="421.09" y2="339.60" stroke="#222" stroke-width="0.8" />
<line x1="418.09" y1="346.50" x2="421.09" y2="346.50" stroke="#222" stroke-width="0.8" />
<polyline points="307.24,242.65 335.33,242.27 363.42,249.05 391.51,256.70 419.59,268.75 447.68,276.15 475.77,282.43 503.86,290.09" fill="none" stroke="#333" stroke-width="1.0" stroke-linejoin="round"/>
<polyline points="307.24,244.28 335.33,283.18 363.42,308.16 391.51,321.84 419.59,327.11 447.68,340.41 475.77,338.78" fill="none" stroke="#333" stroke-width="1.0" stroke-dasharray="3,2" stroke-linejoin="round"/>
<polyline points="307.24,244.78 335.33,284.06 363.42,318.20 391.51,329.24 419.59,343.42 447.68,351.45" fill="none" stroke="#222" stroke-width="1.0" stroke-linejoin="round"/>
<polygon points="307.24,240.45 309.44,244.41 305.04,244.41" fill="#fff" stroke="#222" stroke-width="1.0"/>
<polygon points="335.33,240.07 337.53,244.03 333.13,244.03" fill="#fff" stroke="#222" stroke-width="1.0"/>
<polygon points="363.42,246.85 365.62,250.81 361.22,250.81" fill="#fff" stroke="#222" stroke-width="1.0"/>
<polygon points="391.51,254.50 393.71,258.46 389.31,258.46" fill="#fff" stroke="#222" stroke-width="1.0"/>
<polygon points="419.59,266.55 421.79,270.51 417.39,270.51" fill="#fff" stroke="#222" stroke-width="1.0"/>
<polygon points="447.68,273.95 449.88,277.91 445.48,277.91" fill="#fff" stroke="#222" stroke-width="1.0"/>
<polygon points="475.77,280.23 477.97,284.19 473.57,284.19" fill="#fff" stroke="#222" stroke-width="1.0"/>
<polygon points="503.86,287.89 506.06,291.85 501.66,291.85" fill="#fff" stroke="#222" stroke-width="1.0"/>
<polygon points="307.24,241.88 309.64,244.28 307.24,246.68 304.84,244.28" fill="#000" stroke="none"/>
<polygon points="335.33,280.78 337.73,283.18 335.33,285.58 332.93,283.18" fill="#000" stroke="none"/>
<polygon points="363.42,305.76 365.82,308.16 363.42,310.56 361.02,308.16" fill="#000" stroke="none"/>
<polygon points="391.51,319.44 393.91,321.84 391.51,324.24 389.11,321.84" fill="#000" stroke="none"/>
<polygon points="419.59,324.71 421.99,327.11 419.59,329.51 417.19,327.11" fill="#000" stroke="none"/>
<polygon points="447.68,338.01 450.08,340.41 447.68,342.81 445.28,340.41" fill="#000" stroke="none"/>
<polygon points="475.77,336.38 478.17,338.78 475.77,341.18 473.37,338.78" fill="#000" stroke="none"/>
<rect x="305.74" y="243.28" width="3.00" height="3.00" fill="#000" stroke="none"/>
<rect x="333.83" y="282.56" width="3.00" height="3.00" fill="#000" stroke="none"/>
<rect x="361.92" y="316.70" width="3.00" height="3.00" fill="#000" stroke="none"/>
<rect x="390.01" y="327.74" width="3.00" height="3.00" fill="#000" stroke="none"/>
<rect x="418.09" y="341.92" width="3.00" height="3.00" fill="#000" stroke="none"/>
<rect x="446.18" y="349.95" width="3.00" height="3.00" fill="#000" stroke="none"/>
<text x="388.40" y="224.10" font-size="7.00" font-weight="bold" text-anchor="middle" textLength="28.60" lengthAdjust="spacingAndGlyphs" fill="#111"  stroke="#111" stroke-width="0.25">8226 LRS</text>
<text transform="translate(276.50,306.30) rotate(-90)" x="0" y="0" font-size="6.80" font-weight="bold" text-anchor="middle" textLength="104.00" lengthAdjust="spacingAndGlyphs" fill="#222"  stroke="#222" stroke-width="0.25">Viability(Percent of Untreated)</text>
<line x1="13.40" y1="435.30" x2="162.20" y2="435.30" stroke="#cfcfcf" stroke-width="1.4" />
<line x1="162.20" y1="435.30" x2="162.20" y2="537.30" stroke="#cfcfcf" stroke-width="1.4" />
<line x1="13.40" y1="537.30" x2="13.40" y2="556.00" stroke="#e0e0e0" stroke-width="0.7" stroke-dasharray="1,1" />
<line x1="34.66" y1="537.30" x2="34.66" y2="556.00" stroke="#e0e0e0" stroke-width="0.7" stroke-dasharray="1,1" />
<line x1="55.91" y1="537.30" x2="55.91" y2="556.00" stroke="#e0e0e0" stroke-width="0.7" stroke-dasharray="1,1" />
<line x1="77.17" y1="537.30" x2="77.17" y2="556.00" stroke="#e0e0e0" stroke-width="0.7" stroke-dasharray="1,1" />
<line x1="98.43" y1="537.30" x2="98.43" y2="556.00" stroke="#e0e0e0" stroke-width="0.7" stroke-dasharray="1,1" />
<line x1="119.69" y1="537.30" x2="119.69" y2="556.00" stroke="#e0e0e0" stroke-width="0.7" stroke-dasharray="1,1" />
<line x1="140.94" y1="537.30" x2="140.94" y2="556.00" stroke="#e0e0e0" stroke-width="0.7" stroke-dasharray="1,1" />
<line x1="162.20" y1="537.30" x2="162.20" y2="556.00" stroke="#e0e0e0" stroke-width="0.7" stroke-dasharray="1,1" />
<line x1="13.40" y1="435.30" x2="13.40" y2="537.80" stroke="#c4c4c4" stroke-width="1" />
<line x1="12.90" y1="537.30" x2="162.20" y2="537.30" stroke="#8c8c8c" stroke-width="1" />
<text x="10.60" y="538.95" font-size="4.60" font-weight="bold" text-anchor="end" textLength="2.10" lengthAdjust="spacingAndGlyphs" fill="#333"  stroke="#333" stroke-width="0.12">0</text>
<text x="10.60" y="529.67" font-size="4.60" font-weight="bold" text-anchor="end" textLength="4.20" lengthAdjust="spacingAndGlyphs" fill="#333"  stroke="#333" stroke-width="0.12">10</text>
<text x="10.60" y="520.40" font-size="4.60" font-weight="bold" text-anchor="end" textLength="4.20" lengthAdjust="spacingAndGlyphs" fill="#333"  stroke="#333" stroke-width="0.12">20</text>
<text x="10.60" y="511.13" font-size="4.60" font-weight="bold" text-anchor="end" textLength="4.20" lengthAdjust="spacingAndGlyphs" fill="#333"  stroke="#333" stroke-width="0.12">30</text>
<text x="10.60" y="501.86" font-size="4.60" font-weight="bold" text-anchor="end" textLength="4.20" lengthAdjust="spacingAndGlyphs" fill="#333"  stroke="#333" stroke-width="0.12">40</text>
<text x="10.60" y="492.58" font-size="4.60" font-weight="bold" text-anchor="end" textLength="4.20" lengthAdjust="spacingAndGlyphs" fill="#333"  stroke="#333" stroke-width="0.12">50</text>
<text x="10.60" y="483.31" font-size="4.60" font-weight="bold" text-anchor="end" textLength="4.20" lengthAdjust="spacingAndGlyphs" fill="#333"  stroke="#333" stroke-width="0.12">60</text>
<text x="10.60" y="474.04" font-size="4.60" font-weight="bold" text-anchor="end" textLength="4.20" lengthAdjust="spacingAndGlyphs" fill="#333"  stroke="#333" stroke-width="0.12">70</text>
<text x="10.60" y="464.76" font-size="4.60" font-weight="bold" text-anchor="end" textLength="4.20" lengthAdjust="spacingAndGlyphs" fill="#333"  stroke="#333" stroke-width="0.12">80</text>
<text x="10.60" y="455.49" font-size="4.60" font-weight="bold" text-anchor="end" textLength="4.20" lengthAdjust="spacingAndGlyphs" fill="#333"  stroke="#333" stroke-width="0.12">90</text>
<text x="10.60" y="446.22" font-size="4.60" font-weight="bold" text-anchor="end" textLength="6.29" lengthAdjust="spacingAndGlyphs" fill="#333"  stroke="#333" stroke-width="0.12">100</text>
<text x="10.60" y="436.95" font-size="4.60" font-weight="bold" text-anchor="end" textLength="6.08" lengthAdjust="spacingAndGlyphs" fill="#333"  stroke="#333" stroke-width="0.12">110</text>
<text x="24.03" y="545.11" font-size="4.50" font-weight="bold" text-anchor="middle" textLength="14.66" lengthAdjust="spacingAndGlyphs" fill="#333"  stroke="#333" stroke-width="0.12">Btz 2nM</text>
<text x="24.03" y="553.91" font-size="4.50" font-weight="bold" text-anchor="middle" textLength="16.37" lengthAdjust="spacingAndGlyphs" fill="#333"  stroke="#333" stroke-width="0.12">GX 25nM</text>
<text x="45.29" y="545.11" font-size="4.50" font-weight="bold" text-anchor="middle" textLength="17.85" lengthAdjust="spacingAndGlyphs" fill="#333"  stroke="#333" stroke-width="0.12">Btz 2.5nM</text>
<text x="45.29" y="553.91" font-size="4.50" font-weight="bold" text-anchor="middle" textLength="16.37" lengthAdjust="spacingAndGlyphs" fill="#333"  stroke="#333" stroke-width="0.12">GX 50nM</text>
<text x="66.54" y="545.11" font-size="4.50" font-weight="bold" text-anchor="middle" textLength="14.66" lengthAdjust="spacingAndGlyphs" fill="#333"  stroke="#333" stroke-width="0.12">Btz 3nM</text>
<text x="66.54" y="553.91" font-size="4.50" font-weight="bold" text-anchor="middle" textLength="16.37" lengthAdjust="spacingAndGlyphs" fill="#333"  stroke="#333" stroke-width="0.12">GX 75nM</text>
<text x="87.80" y="545.11" font-size="4.50" font-weight="bold" text-anchor="middle" textLength="17.85" lengthAdjust="spacingAndGlyphs" fill="#333"  stroke="#333" stroke-width="0.12">Btz 3.5nM</text>
<text x="87.80" y="553.91" font-size="4.50" font-weight="bold" text-anchor="middle" textLength="18.49" lengthAdjust="spacingAndGlyphs" fill="#333"  stroke="#333" stroke-width="0.12">GX 100nM</text>
<text x="109.06" y="545.11" font-size="4.50" font-weight="bold" text-anchor="middle" textLength="14.66" lengthAdjust="spacingAndGlyphs" fill="#333"  stroke="#333" stroke-width="0.12">Btz 4nM</text>
<text x="109.06" y="553.91" font-size="4.50" font-weight="bold" text-anchor="middle" textLength="18.49" lengthAdjust="spacingAndGlyphs" fill="#333"  stroke="#333" stroke-width="0.12">GX 150nM</text>
<text x="130.31" y="545.11" font-size="4.50" font-weight="bold" text-anchor="middle" textLength="17.85" lengthAdjust="spacingAndGlyphs" fill="#333"  stroke="#333" stroke-width="0.12">Btz 4.5nM</text>
<text x="130.31" y="553.91" font-size="4.50" font-weight="bold" text-anchor="middle" textLength="18.49" lengthAdjust="spacingAndGlyphs" fill="#333"  stroke="#333" stroke-width="0.12">GX 200nM</text>
<text x="151.57" y="545.11" font-size="4.50" font-weight="bold" text-anchor="middle" textLength="14.66" lengthAdjust="spacingAndGlyphs" fill="#333"  stroke="#333" stroke-width="0.12">Btz 5nM</text>
<text x="151.57" y="553.91" font-size="4.50" font-weight="bold" text-anchor="middle" textLength="18.49" lengthAdjust="spacingAndGlyphs" fill="#333"  stroke="#333" stroke-width="0.12">GX 250nM</text>
<polyline points="24.03,454.12 45.29,457.09 66.54,462.93 87.80,459.41 109.06,463.67 130.31,479.62 151.57,495.39" fill="none" stroke="#8c8c8c" stroke-width="0.9" stroke-linejoin="round"/>
<polyline points="24.03,458.76 45.29,462.93 66.54,462.47 87.80,466.36 109.06,474.52 130.31,490.75 151.57,497.71" fill="none" stroke="#333" stroke-width="1.0" stroke-dasharray="2.5,1.5" stroke-linejoin="round"/>
<polyline points="24.03,467.29 45.29,470.44 66.54,469.42 87.80,472.21 109.06,479.44 130.31,498.17 151.57,504.20" fill="none" stroke="#222" stroke-width="1.0" stroke-linejoin="round"/>
<polygon points="24.03,452.62 25.53,455.32 22.53,455.32" fill="#777" stroke="#777" stroke-width="0.3"/>
<polygon points="45.29,455.59 46.79,458.29 43.79,458.29" fill="#777" stroke="#777" stroke-width="0.3"/>
<polygon points="66.54,461.43 68.04,464.13 65.04,464.13" fill="#777" stroke="#777" stroke-width="0.3"/>
<polygon points="87.80,457.91 89.30,460.61 86.30,460.61" fill="#777" stroke="#777" stroke-width="0.3"/>
<polygon points="109.06,462.17 110.56,464.87 107.56,464.87" fill="#777" stroke="#777" stroke-width="0.3"/>
<polygon points="130.31,478.12 131.81,480.82 128.81,480.82" fill="#777" stroke="#777" stroke-width="0.3"/>
<polygon points="151.57,493.89 153.07,496.59 150.07,496.59" fill="#777" stroke="#777" stroke-width="0.3"/>
<polygon points="24.03,457.06 25.73,458.76 24.03,460.46 22.33,458.76" fill="#111" stroke="none"/>
<polygon points="45.29,461.23 46.99,462.93 45.29,464.63 43.59,462.93" fill="#111" stroke="none"/>
<polygon points="66.54,460.77 68.24,462.47 66.54,464.17 64.84,462.47" fill="#111" stroke="none"/>
<polygon points="87.80,464.66 89.50,466.36 87.80,468.06 86.10,466.36" fill="#111" stroke="none"/>
<polygon points="109.06,472.82 110.76,474.52 109.06,476.22 107.36,474.52" fill="#111" stroke="none"/>
<polygon points="130.31,489.05 132.01,490.75 130.31,492.45 128.61,490.75" fill="#111" stroke="none"/>
<polygon points="151.57,496.01 153.27,497.71 151.57,499.41 149.87,497.71" fill="#111" stroke="none"/>
<circle cx="24.03" cy="467.29" r="1.50" fill="#000" stroke="none"/>
<circle cx="45.29" cy="470.44" r="1.50" fill="#000" stroke="none"/>
<circle cx="66.54" cy="469.42" r="1.50" fill="#000" stroke="none"/>
<circle cx="87.80" cy="472.21" r="1.50" fill="#000" stroke="none"/>
<circle cx="109.06" cy="479.44" r="1.50" fill="#000" stroke="none"/>
<circle cx="130.31" cy="498.17" r="1.50" fill="#000" stroke="none"/>
<circle cx="151.57" cy="504.20" r="1.50" fill="#000" stroke="none"/>
<text transform="translate(5.50,486.50) rotate(-90)" x="0" y="0" font-size="4.60" font-weight="bold" text-anchor="middle" textLength="74.60" lengthAdjust="spacing" fill="#333"  stroke="#333" stroke-width="0.1">Viability (Percent of Untreated)</text>
<text x="90.50" y="578.80" font-size="10.40" font-weight="bold" text-anchor="middle" textLength="66.40" lengthAdjust="spacingAndGlyphs" fill="#111"  stroke="#111" stroke-width="0.25">Simultaneous</text>
<line x1="190.00" y1="437.00" x2="338.20" y2="437.00" stroke="#cfcfcf" stroke-width="1.4" />
<line x1="338.20" y1="437.00" x2="338.20" y2="534.20" stroke="#cfcfcf" stroke-width="1.4" />
<line x1="190.00" y1="534.20" x2="190.00" y2="562.50" stroke="#e0e0e0" stroke-width="0.7" stroke-dasharray="1,1" />
<line x1="211.17" y1="534.20" x2="211.17" y2="562.50" stroke="#e0e0e0" stroke-width="0.7" stroke-dasharray="1,1" />
<line x1="232.34" y1="534.20" x2="232.34" y2="562.50" stroke="#e0e0e0" stroke-width="0.7" stroke-dasharray="1,1" />
<line x1="253.51" y1="534.20" x2="253.51" y2="562.50" stroke="#e0e0e0" stroke-width="0.7" stroke-dasharray="1,1" />
<line x1="274.69" y1="534.20" x2="274.69" y2="562.50" stroke="#e0e0e0" stroke-width="0.7" stroke-dasharray="1,1" />
<line x1="295.86" y1="534.20" x2="295.86" y2="562.50" stroke="#e0e0e0" stroke-width="0.7" stroke-dasharray="1,1" />
<line x1="317.03" y1="534.20" x2="317.03" y2="562.50" stroke="#e0e0e0" stroke-width="0.7" stroke-dasharray="1,1" />
<line x1="338.20" y1="534.20" x2="338.20" y2="562.50" stroke="#e0e0e0" stroke-width="0.7" stroke-dasharray="1,1" />
<line x1="190.00" y1="437.00" x2="190.00" y2="534.70" stroke="#c4c4c4" stroke-width="1.5" />
<line x1="189.50" y1="534.20" x2="338.20" y2="534.20" stroke="#8c8c8c" stroke-width="1.2" />
<text x="188.00" y="536.06" font-size="5.20" font-weight="bold" text-anchor="end" textLength="1.59" lengthAdjust="spacingAndGlyphs" fill="#222"  stroke="#222" stroke-width="0.25">0</text>
<text x="188.00" y="527.23" font-size="5.20" font-weight="bold" text-anchor="end" textLength="3.18" lengthAdjust="spacingAndGlyphs" fill="#222"  stroke="#222" stroke-width="0.25">10</text>
<text x="188.00" y="518.39" font-size="5.20" font-weight="bold" text-anchor="end" textLength="3.18" lengthAdjust="spacingAndGlyphs" fill="#222"  stroke="#222" stroke-width="0.25">20</text>
<text x="188.00" y="509.55" font-size="5.20" font-weight="bold" text-anchor="end" textLength="3.18" lengthAdjust="spacingAndGlyphs" fill="#222"  stroke="#222" stroke-width="0.25">30</text>
<text x="188.00" y="500.72" font-size="5.20" font-weight="bold" text-anchor="end" textLength="3.18" lengthAdjust="spacingAndGlyphs" fill="#222"  stroke="#222" stroke-width="0.25">40</text>
<text x="188.00" y="491.88" font-size="5.20" font-weight="bold" text-anchor="end" textLength="3.18" lengthAdjust="spacingAndGlyphs" fill="#222"  stroke="#222" stroke-width="0.25">50</text>
<text x="188.00" y="483.04" font-size="5.20" font-weight="bold" text-anchor="end" textLength="3.18" lengthAdjust="spacingAndGlyphs" fill="#222"  stroke="#222" stroke-width="0.25">60</text>
<text x="188.00" y="474.21" font-size="5.20" font-weight="bold" text-anchor="end" textLength="3.18" lengthAdjust="spacingAndGlyphs" fill="#222"  stroke="#222" stroke-width="0.25">70</text>
<text x="188.00" y="465.37" font-size="5.20" font-weight="bold" text-anchor="end" textLength="3.18" lengthAdjust="spacingAndGlyphs" fill="#222"  stroke="#222" stroke-width="0.25">80</text>
<text x="188.00" y="456.53" font-size="5.20" font-weight="bold" text-anchor="end" textLength="3.18" lengthAdjust="spacingAndGlyphs" fill="#222"  stroke="#222" stroke-width="0.25">90</text>
<text x="188.00" y="447.70" font-size="5.20" font-weight="bold" text-anchor="end" textLength="4.77" lengthAdjust="spacingAndGlyphs" fill="#222"  stroke="#222" stroke-width="0.25">100</text>
<text x="188.00" y="438.86" font-size="5.20" font-weight="bold" text-anchor="end" textLength="4.61" lengthAdjust="spacingAndGlyphs" fill="#222"  stroke="#222" stroke-width="0.25">110</text>
<text x="200.59" y="546.11" font-size="6.60" font-weight="bold" text-anchor="middle" textLength="13.15" lengthAdjust="spacingAndGlyphs" fill="#222"  stroke="#222" stroke-width="0.25">Btz 2nM</text>
<text x="200.59" y="560.11" font-size="6.60" font-weight="bold" text-anchor="middle" textLength="14.68" lengthAdjust="spacingAndGlyphs" fill="#222"  stroke="#222" stroke-width="0.25">GX 25nM</text>
<text x="221.76" y="546.11" font-size="6.60" font-weight="bold" text-anchor="middle" textLength="16.02" lengthAdjust="spacingAndGlyphs" fill="#222"  stroke="#222" stroke-width="0.25">Btz 2.5nM</text>
<text x="221.76" y="560.11" font-size="6.60" font-weight="bold" text-anchor="middle" textLength="14.68" lengthAdjust="spacingAndGlyphs" fill="#222"  stroke="#222" stroke-width="0.25">GX 50nM</text>
<text x="242.93" y="546.11" font-size="6.60" font-weight="bold" text-anchor="middle" textLength="13.15" lengthAdjust="spacingAndGlyphs" fill="#222"  stroke="#222" stroke-width="0.25">Btz 3nM</text>
<text x="242.93" y="560.11" font-size="6.60" font-weight="bold" text-anchor="middle" textLength="14.68" lengthAdjust="spacingAndGlyphs" fill="#222"  stroke="#222" stroke-width="0.25">GX 75nM</text>
<text x="264.10" y="546.11" font-size="6.60" font-weight="bold" text-anchor="middle" textLength="16.02" lengthAdjust="spacingAndGlyphs" fill="#222"  stroke="#222" stroke-width="0.25">Btz 3.5nM</text>
<text x="264.10" y="560.11" font-size="6.60" font-weight="bold" text-anchor="middle" textLength="16.59" lengthAdjust="spacingAndGlyphs" fill="#222"  stroke="#222" stroke-width="0.25">GX 100nM</text>
<text x="285.27" y="546.11" font-size="6.60" font-weight="bold" text-anchor="middle" textLength="13.15" lengthAdjust="spacingAndGlyphs" fill="#222"  stroke="#222" stroke-width="0.25">Btz 4nM</text>
<text x="285.27" y="560.11" font-size="6.60" font-weight="bold" text-anchor="middle" textLength="16.59" lengthAdjust="spacingAndGlyphs" fill="#222"  stroke="#222" stroke-width="0.25">GX 150nM</text>
<text x="306.44" y="546.11" font-size="6.60" font-weight="bold" text-anchor="middle" textLength="16.02" lengthAdjust="spacingAndGlyphs" fill="#222"  stroke="#222" stroke-width="0.25">Btz 4.5nM</text>
<text x="306.44" y="560.11" font-size="6.60" font-weight="bold" text-anchor="middle" textLength="16.59" lengthAdjust="spacingAndGlyphs" fill="#222"  stroke="#222" stroke-width="0.25">GX 200nM</text>
<text x="327.61" y="546.11" font-size="6.60" font-weight="bold" text-anchor="middle" textLength="13.15" lengthAdjust="spacingAndGlyphs" fill="#222"  stroke="#222" stroke-width="0.25">Btz 5nM</text>
<text x="327.61" y="560.11" font-size="6.60" font-weight="bold" text-anchor="middle" textLength="16.59" lengthAdjust="spacingAndGlyphs" fill="#222"  stroke="#222" stroke-width="0.25">GX 250nM</text>
<polyline points="200.59,436.38 221.76,437.97 242.93,448.49 264.10,463.77 285.27,484.98 306.44,498.41 327.61,508.93" fill="none" stroke="#333" stroke-width="0.9" stroke-dasharray="2,1.5" stroke-linejoin="round"/>
<polyline points="200.59,446.45 221.76,449.72 242.93,453.79 264.10,463.77 285.27,475.53 306.44,493.29 327.61,507.07" fill="none" stroke="#444" stroke-width="0.9" stroke-linejoin="round"/>
<polyline points="200.59,440.89 221.76,444.25 242.93,455.38 264.10,471.55 285.27,489.58 306.44,502.65 327.61,512.20" fill="none" stroke="#333" stroke-width="0.95" stroke-linejoin="round"/>
<rect x="220.56" y="436.77" width="2.40" height="2.40" fill="#000" stroke="none"/>
<rect x="241.73" y="447.29" width="2.40" height="2.40" fill="#000" stroke="none"/>
<rect x="262.90" y="462.57" width="2.40" height="2.40" fill="#000" stroke="none"/>
<rect x="284.07" y="483.78" width="2.40" height="2.40" fill="#000" stroke="none"/>
<rect x="305.24" y="497.21" width="2.40" height="2.40" fill="#000" stroke="none"/>
<rect x="326.41" y="507.73" width="2.40" height="2.40" fill="#000" stroke="none"/>
<circle cx="200.59" cy="446.45" r="1.30" fill="#666" stroke="none"/>
<circle cx="221.76" cy="449.72" r="1.30" fill="#666" stroke="none"/>
<circle cx="242.93" cy="453.79" r="1.30" fill="#666" stroke="none"/>
<circle cx="264.10" cy="463.77" r="1.30" fill="#666" stroke="none"/>
<circle cx="285.27" cy="475.53" r="1.30" fill="#666" stroke="none"/>
<circle cx="306.44" cy="493.29" r="1.30" fill="#666" stroke="none"/>
<circle cx="327.61" cy="507.07" r="1.30" fill="#666" stroke="none"/>
<rect x="199.29" y="439.59" width="2.60" height="2.60" fill="#000" stroke="none"/>
<rect x="220.46" y="442.95" width="2.60" height="2.60" fill="#000" stroke="none"/>
<rect x="241.63" y="454.08" width="2.60" height="2.60" fill="#000" stroke="none"/>
<rect x="262.80" y="470.25" width="2.60" height="2.60" fill="#000" stroke="none"/>
<rect x="283.97" y="488.28" width="2.60" height="2.60" fill="#000" stroke="none"/>
<rect x="305.14" y="501.35" width="2.60" height="2.60" fill="#000" stroke="none"/>
<rect x="326.31" y="510.90" width="2.60" height="2.60" fill="#000" stroke="none"/>
<text transform="translate(181.70,486.30) rotate(-90)" x="0" y="0" font-size="4.40" font-weight="bold" text-anchor="middle" textLength="97.00" lengthAdjust="spacing" fill="#222"  stroke="#222" stroke-width="0.25">Viability (Percent of Untreated)</text>
<text x="265.20" y="578.50" font-size="10.30" font-weight="bold" text-anchor="middle" textLength="57.20" lengthAdjust="spacingAndGlyphs" fill="#111"  stroke="#111" stroke-width="0.25">Btz then GX</text>
<line x1="365.80" y1="435.30" x2="518.30" y2="435.30" stroke="#cfcfcf" stroke-width="1.4" />
<line x1="518.30" y1="435.30" x2="518.30" y2="534.00" stroke="#cfcfcf" stroke-width="1.4" />
<line x1="365.80" y1="534.00" x2="365.80" y2="558.75" stroke="#e0e0e0" stroke-width="0.7" stroke-dasharray="1,1" />
<line x1="387.59" y1="534.00" x2="387.59" y2="558.75" stroke="#e0e0e0" stroke-width="0.7" stroke-dasharray="1,1" />
<line x1="409.37" y1="534.00" x2="409.37" y2="558.75" stroke="#e0e0e0" stroke-width="0.7" stroke-dasharray="1,1" />
<line x1="431.16" y1="534.00" x2="431.16" y2="558.75" stroke="#e0e0e0" stroke-width="0.7" stroke-dasharray="1,1" />
<line x1="452.94" y1="534.00" x2="452.94" y2="558.75" stroke="#e0e0e0" stroke-width="0.7" stroke-dasharray="1,1" />
<line x1="474.73" y1="534.00" x2="474.73" y2="558.75" stroke="#e0e0e0" stroke-width="0.7" stroke-dasharray="1,1" />
<line x1="496.51" y1="534.00" x2="496.51" y2="558.75" stroke="#e0e0e0" stroke-width="0.7" stroke-dasharray="1,1" />
<line x1="518.30" y1="534.00" x2="518.30" y2="558.75" stroke="#e0e0e0" stroke-width="0.7" stroke-dasharray="1,1" />
<line x1="365.80" y1="435.30" x2="365.80" y2="534.50" stroke="#c4c4c4" stroke-width="1.5" />
<line x1="365.30" y1="534.00" x2="518.30" y2="534.00" stroke="#8c8c8c" stroke-width="1.2" />
<text x="363.70" y="535.79" font-size="5.00" font-weight="bold" text-anchor="end" textLength="1.67" lengthAdjust="spacingAndGlyphs" fill="#222"  stroke="#222" stroke-width="0.25">0</text>
<text x="363.70" y="526.82" font-size="5.00" font-weight="bold" text-anchor="end" textLength="3.34" lengthAdjust="spacingAndGlyphs" fill="#222"  stroke="#222" stroke-width="0.25">10</text>
<text x="363.70" y="517.84" font-size="5.00" font-weight="bold" text-anchor="end" textLength="3.34" lengthAdjust="spacingAndGlyphs" fill="#222"  stroke="#222" stroke-width="0.25">20</text>
<text x="363.70" y="508.87" font-size="5.00" font-weight="bold" text-anchor="end" textLength="3.34" lengthAdjust="spacingAndGlyphs" fill="#222"  stroke="#222" stroke-width="0.25">30</text>
<text x="363.70" y="499.90" font-size="5.00" font-weight="bold" text-anchor="end" textLength="3.34" lengthAdjust="spacingAndGlyphs" fill="#222"  stroke="#222" stroke-width="0.25">40</text>
<text x="363.70" y="490.93" font-size="5.00" font-weight="bold" text-anchor="end" textLength="3.34" lengthAdjust="spacingAndGlyphs" fill="#222"  stroke="#222" stroke-width="0.25">50</text>
<text x="363.70" y="481.95" font-size="5.00" font-weight="bold" text-anchor="end" textLength="3.34" lengthAdjust="spacingAndGlyphs" fill="#222"  stroke="#222" stroke-width="0.25">60</text>
<text x="363.70" y="472.98" font-size="5.00" font-weight="bold" text-anchor="end" textLength="3.34" lengthAdjust="spacingAndGlyphs" fill="#222"  stroke="#222" stroke-width="0.25">70</text>
<text x="363.70" y="464.01" font-size="5.00" font-weight="bold" text-anchor="end" textLength="3.34" lengthAdjust="spacingAndGlyphs" fill="#222"  stroke="#222" stroke-width="0.25">80</text>
<text x="363.70" y="455.04" font-size="5.00" font-weight="bold" text-anchor="end" textLength="3.34" lengthAdjust="spacingAndGlyphs" fill="#222"  stroke="#222" stroke-width="0.25">90</text>
<text x="363.70" y="446.06" font-size="5.00" font-weight="bold" text-anchor="end" textLength="5.00" lengthAdjust="spacingAndGlyphs" fill="#222"  stroke="#222" stroke-width="0.25">100</text>
<text x="363.70" y="437.09" font-size="5.00" font-weight="bold" text-anchor="end" textLength="4.84" lengthAdjust="spacingAndGlyphs" fill="#222"  stroke="#222" stroke-width="0.25">110</text>
<text x="376.69" y="543.83" font-size="5.40" font-weight="bold" text-anchor="middle" textLength="13.45" lengthAdjust="spacingAndGlyphs" fill="#222"  stroke="#222" stroke-width="0.25">Btz 2nM</text>
<text x="376.69" y="555.43" font-size="5.40" font-weight="bold" text-anchor="middle" textLength="15.02" lengthAdjust="spacingAndGlyphs" fill="#222"  stroke="#222" stroke-width="0.25">GX 25nM</text>
<text x="398.48" y="543.83" font-size="5.40" font-weight="bold" text-anchor="middle" textLength="16.38" lengthAdjust="spacingAndGlyphs" fill="#222"  stroke="#222" stroke-width="0.25">Btz 2.5nM</text>
<text x="398.48" y="555.43" font-size="5.40" font-weight="bold" text-anchor="middle" textLength="15.02" lengthAdjust="spacingAndGlyphs" fill="#222"  stroke="#222" stroke-width="0.25">GX 50nM</text>
<text x="420.26" y="543.83" font-size="5.40" font-weight="bold" text-anchor="middle" textLength="13.45" lengthAdjust="spacingAndGlyphs" fill="#222"  stroke="#222" stroke-width="0.25">Btz 3nM</text>
<text x="420.26" y="555.43" font-size="5.40" font-weight="bold" text-anchor="middle" textLength="15.02" lengthAdjust="spacingAndGlyphs" fill="#222"  stroke="#222" stroke-width="0.25">GX 75nM</text>
<text x="442.05" y="543.83" font-size="5.40" font-weight="bold" text-anchor="middle" textLength="16.38" lengthAdjust="spacingAndGlyphs" fill="#222"  stroke="#222" stroke-width="0.25">Btz 3.5nM</text>
<text x="442.05" y="555.43" font-size="5.40" font-weight="bold" text-anchor="middle" textLength="16.97" lengthAdjust="spacingAndGlyphs" fill="#222"  stroke="#222" stroke-width="0.25">GX 100nM</text>
<text x="463.84" y="543.83" font-size="5.40" font-weight="bold" text-anchor="middle" textLength="13.45" lengthAdjust="spacingAndGlyphs" fill="#222"  stroke="#222" stroke-width="0.25">Btz 4nM</text>
<text x="463.84" y="555.43" font-size="5.40" font-weight="bold" text-anchor="middle" textLength="16.97" lengthAdjust="spacingAndGlyphs" fill="#222"  stroke="#222" stroke-width="0.25">GX 150nM</text>
<text x="485.62" y="543.83" font-size="5.40" font-weight="bold" text-anchor="middle" textLength="16.38" lengthAdjust="spacingAndGlyphs" fill="#222"  stroke="#222" stroke-width="0.25">Btz 4.5nM</text>
<text x="485.62" y="555.43" font-size="5.40" font-weight="bold" text-anchor="middle" textLength="16.97" lengthAdjust="spacingAndGlyphs" fill="#222"  stroke="#222" stroke-width="0.25">GX 200nM</text>
<text x="507.41" y="543.83" font-size="5.40" font-weight="bold" text-anchor="middle" textLength="13.45" lengthAdjust="spacingAndGlyphs" fill="#222"  stroke="#222" stroke-width="0.25">Btz 5nM</text>
<text x="507.41" y="555.43" font-size="5.40" font-weight="bold" text-anchor="middle" textLength="16.97" lengthAdjust="spacingAndGlyphs" fill="#222"  stroke="#222" stroke-width="0.25">GX 250nM</text>
<polyline points="376.69,444.54 398.48,447.32 420.26,450.28 442.05,458.36 463.84,470.38 485.62,477.11 507.41,505.29" fill="none" stroke="#999" stroke-width="0.9" stroke-linejoin="round"/>
<polyline points="376.69,436.20 398.48,438.26 420.26,446.25 442.05,458.36 463.84,478.28 485.62,495.96 507.41,501.43" fill="none" stroke="#333" stroke-width="0.9" stroke-dasharray="2,1.5" stroke-linejoin="round"/>
<polyline points="376.69,440.32 398.48,442.84 420.26,450.91 442.05,464.10 463.84,500.98 485.62,515.34 507.41,522.43" fill="none" stroke="#333" stroke-width="0.95" stroke-linejoin="round"/>
<polygon points="376.69,443.14 378.09,445.66 375.29,445.66" fill="#777" stroke="#777" stroke-width="0.3"/>
<polygon points="398.48,445.92 399.88,448.44 397.08,448.44" fill="#777" stroke="#777" stroke-width="0.3"/>
<polygon points="420.26,448.88 421.66,451.40 418.86,451.40" fill="#777" stroke="#777" stroke-width="0.3"/>
<polygon points="442.05,456.96 443.45,459.48 440.65,459.48" fill="#777" stroke="#777" stroke-width="0.3"/>
<polygon points="463.84,468.98 465.24,471.50 462.44,471.50" fill="#777" stroke="#777" stroke-width="0.3"/>
<polygon points="485.62,475.71 487.02,478.23 484.22,478.23" fill="#777" stroke="#777" stroke-width="0.3"/>
<polygon points="507.41,503.89 508.81,506.41 506.01,506.41" fill="#777" stroke="#777" stroke-width="0.3"/>
<circle cx="376.69" cy="436.20" r="1.30" fill="#000" stroke="none"/>
<circle cx="398.48" cy="438.26" r="1.30" fill="#000" stroke="none"/>
<circle cx="420.26" cy="446.25" r="1.30" fill="#000" stroke="none"/>
<circle cx="442.05" cy="458.36" r="1.30" fill="#000" stroke="none"/>
<circle cx="463.84" cy="478.28" r="1.30" fill="#000" stroke="none"/>
<circle cx="485.62" cy="495.96" r="1.30" fill="#000" stroke="none"/>
<circle cx="507.41" cy="501.43" r="1.30" fill="#000" stroke="none"/>
<circle cx="376.69" cy="440.32" r="1.40" fill="#000" stroke="none"/>
<circle cx="398.48" cy="442.84" r="1.40" fill="#000" stroke="none"/>
<circle cx="420.26" cy="450.91" r="1.40" fill="#000" stroke="none"/>
<circle cx="442.05" cy="464.10" r="1.40" fill="#000" stroke="none"/>
<circle cx="463.84" cy="500.98" r="1.40" fill="#000" stroke="none"/>
<circle cx="485.62" cy="515.34" r="1.40" fill="#000" stroke="none"/>
<circle cx="507.41" cy="522.43" r="1.40" fill="#000" stroke="none"/>
<text transform="translate(356.60,485.00) rotate(-90)" x="0" y="0" font-size="4.50" font-weight="bold" text-anchor="middle" textLength="79.50" lengthAdjust="spacing" fill="#222"  stroke="#222" stroke-width="0.25">Viability (Percent of Untreated)</text>
<text x="440.80" y="578.80" font-size="10.30" font-weight="bold" text-anchor="middle" textLength="58.50" lengthAdjust="spacingAndGlyphs" fill="#111"  stroke="#111" stroke-width="0.25">GX then Btz</text>
<text x="3.00" y="13.30" font-size="15.40" font-weight="bold" text-anchor="start" textLength="10.40" lengthAdjust="spacingAndGlyphs" fill="#000"  stroke="#000" stroke-width="0.6">A</text>
<text x="2.40" y="229.60" font-size="15.80" font-weight="bold" text-anchor="start" textLength="9.90" lengthAdjust="spacingAndGlyphs" fill="#000"  stroke="#000" stroke-width="0.6">B</text>
<text x="0.60" y="428.10" font-size="14.80" font-weight="bold" text-anchor="start" textLength="10.20" lengthAdjust="spacingAndGlyphs" fill="#000"  stroke="#000" stroke-width="0.6">C</text>
</g>
</svg>
</body></html>
